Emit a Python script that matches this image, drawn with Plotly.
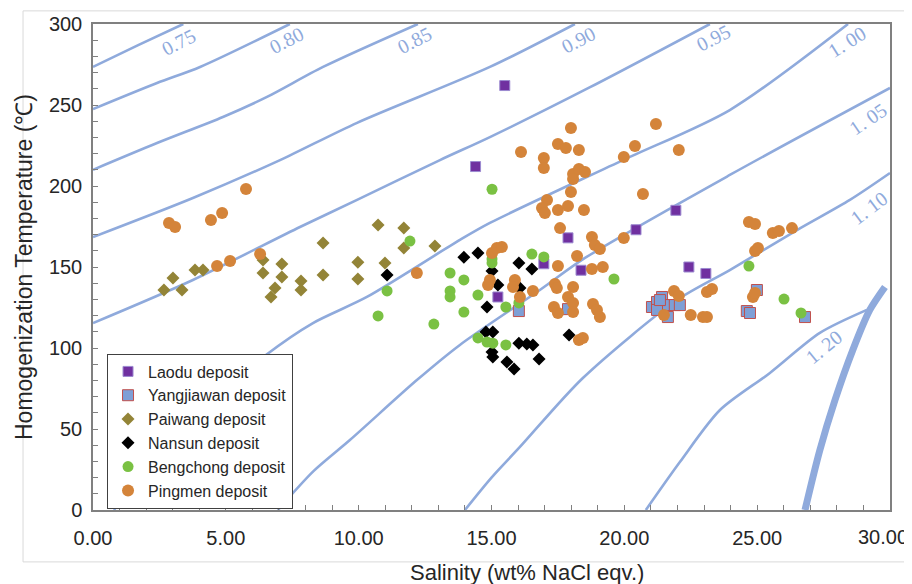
import plotly.graph_objects as go

# ---------------- data ----------------
laodu_x = [15.5, 14.4, 17.88, 18.37, 16.97, 15.24, 20.44, 21.94, 22.43, 23.07]
laodu_y = [262, 212, 168, 148, 152, 131.5, 173, 185, 150, 146]

yangjiawan_x = [21.04, 21.23, 21.42, 21.6, 21.9, 21.64, 21.23, 21.34, 22.09,
                24.99, 24.61, 24.73, 26.8, 16.03, 17.88]
yangjiawan_y = [125.3, 128.4, 131.5, 126.5, 126.5, 119.1, 123.5, 129.6, 126.5,
                135.8, 122.8, 121.6, 119.1, 122.8, 124]

paiwang_x = [2.67, 3.01, 3.35, 3.84, 4.14, 6.4, 6.4, 7.11, 7.11, 6.85, 6.7, 7.83,
             7.83, 8.66, 8.66, 9.97, 9.97, 10.73, 10.99, 11.7, 11.7, 12.87]
paiwang_y = [135.8, 143.2, 135.8, 148.1, 148.1, 154.3, 146.3, 151.9, 143.8, 137, 131.5, 141.4,
             135.8, 164.8, 145, 153, 142.6, 175.9, 152.5, 174, 161.7, 163]

nansun_x = [11.07, 13.96, 14.49, 15.02, 16.03, 16.52, 15.24, 16.07, 14.83, 14.79,
            15.05, 15.02, 15.05, 15.58, 15.85, 16.03, 16.33, 16.56, 16.79, 17.92]
nansun_y = [145, 156, 158.6, 147.5, 152.5, 148.8, 138.9, 137, 125.3, 109.9,
            109.9, 97.5, 94.4, 91.4, 87, 103, 102.5, 101.9, 93.2, 108]

bengchong_x = [11.93, 11.07, 10.73, 12.83, 13.44, 13.44, 13.44, 15.02, 13.96, 14.49,
               13.96, 15.02, 15.02, 15.54, 16.03, 16.52, 16.97, 14.49, 14.83, 15.05,
               15.54, 19.61, 24.69, 26.01, 26.65]
bengchong_y = [166, 135.2, 119.8, 114.8, 146.3, 135.2, 131.5, 198, 142, 132.7,
               122.2, 152.5, 155, 125.3, 127.8, 158, 156.2, 106.2, 103.7, 103,
               101.9, 142.6, 150.6, 130.2, 121.6]

pingmen_x = [2.86, 3.09, 4.44, 4.86, 5.76, 4.67, 5.16, 6.29, 12.19, 17.99,
             16.11, 17.5, 17.8, 18.29, 16.97, 16.97, 18.07, 18.29, 18.52, 18.07,
             17.99, 17.09, 16.9, 17.01, 17.5, 17.88, 18.48, 21.19, 20.4, 19.98,
             20.7, 17.58, 18.78, 18.89, 19.08, 19.98, 22.05, 18.22, 17.5, 18.78,
             19.19, 15.02, 15.2, 15.39, 14.94, 14.87, 15.88, 15.81, 16.07, 16.56,
             17.39, 17.46, 17.88, 18.07, 17.35, 17.5, 18.07, 18.07, 18.82, 18.97,
             19.08, 18.29, 18.44, 21.87, 21.49, 24.69, 24.92, 25.59, 25.82, 26.31,
             24.92, 25.03, 22.05, 23.11, 23.3, 24.84, 24.92, 22.5, 22.96, 23.11]
pingmen_y = [177.2, 174.7, 179, 183.3, 198.1, 150.6, 153.7, 158, 146.3, 235.8,
             221, 225.9, 223.5, 222.2, 217.3, 211.1, 207.4, 210.5, 208.6, 204.3,
             196.3, 191.4, 186.4, 183.3, 185.2, 187.7, 185.2, 238.3, 224.7, 217.9,
             195.1, 174, 168.5, 163.6, 161.1, 167.9, 222.2, 156.8, 150.6, 148.8,
             150, 158.6, 161.7, 162.3, 142, 138.9, 142, 137.6, 131.5, 135.2,
             139.5, 137, 131.5, 137.6, 125.3, 121.6, 127.8, 122.2, 127.2, 123.5,
             119.1, 104.9, 106.2, 135.2, 120.4, 177.8, 176.5, 171, 172.2, 174,
             159.9, 161.7, 132.1, 134.6, 136.4, 131.5, 134, 120.4, 119.1, 119.1]

# iso-density curves (g/cm3)
iso_075_x = [0, 1.7, 3.4]
iso_075_y = [273.5, 287, 300]
iso_080_x = [0, 2.41, 4.03, 7.41]
iso_080_y = [247.5, 263.6, 273.5, 300]
iso_085_x = [0, 2.41, 4.89, 6.55, 8.66, 12.23]
iso_085_y = [210, 226.5, 242.6, 255, 273.5, 300]
iso_090_x = [0, 3.76, 7.04, 9.94, 14.94, 18.14]
iso_090_y = [168.5, 192.6, 216, 239, 273.5, 300]
iso_095_x = [0, 3.76, 7.79, 9.94, 13.06, 14.94, 18.71, 23.22]
iso_095_y = [115.4, 142, 174.7, 191.4, 216, 230.2, 261, 300]
iso_100_x = [0.79, 2.2, 4.3, 6.51, 8.28, 10.31, 13.81, 14.94, 19.95, 23.97, 28.42]
iso_100_y = [0, 30, 65, 95.7, 115.4, 131.5, 166.7, 177.2, 216, 246.9, 300]
iso_105_x = [6.96, 8.3, 9.67, 12.19, 13.81, 16.82, 18.52, 23.97, 30]
iso_105_y = [0, 24, 43.2, 80.2, 101.9, 135.8, 155.6, 206.8, 260.5]
iso_110_x = [14.0, 15.0, 16.07, 18.44, 21.98, 23.97, 26.5, 28.49, 30]
iso_110_y = [0, 20, 38.9, 81.5, 129.6, 148.1, 172.8, 191.4, 208]
iso_120_x = [20.81, 22.09, 23.6, 25.48, 27.36, 29.13]
iso_120_y = [0, 29.6, 61.7, 84.6, 109.3, 123.5]
halite_x = [26.8, 27.36, 27.93, 28.6, 29.24, 29.81]
halite_y = [0, 37, 67.9, 98.8, 123.5, 137.7]

iso_labels = ["0.75", "0.80", "0.85", "0.90", "0.95", "1. 00", "1. 05", "1. 10", "1. 20"]
iso_label_x = [3.23, 7.30, 12.12, 18.26, 23.34, 28.38, 29.17, 29.21, 27.51]
iso_label_y = [288.9, 290.1, 290.1, 290.1, 291.4, 288.9, 241.4, 186.4, 100.6]
iso_label_angle = [-27, -27, -27, -27, -27, -32, -34, -37, -39]

x_ticks = [0, 5, 10, 15, 20, 25, 30]
x_tick_text = ["0.00", "5.00", "10.00", "15.00", "20.00", "25.00", "30.00"]
y_ticks = [0, 50, 100, 150, 200, 250, 300]
x_title = "Salinity (wt% NaCl eqv.)"
y_title = "Homogenization Temperature (℃)"

# ---------------- figure ----------------
LINE = "#8FAADC"
SANS = "Liberation Sans, Arial, sans-serif"
TEXT = "#262626"
fig = go.Figure()

curves = [(iso_075_x, iso_075_y), (iso_080_x, iso_080_y), (iso_085_x, iso_085_y),
          (iso_090_x, iso_090_y), (iso_095_x, iso_095_y), (iso_100_x, iso_100_y),
          (iso_105_x, iso_105_y), (iso_110_x, iso_110_y), (iso_120_x, iso_120_y)]
for cx, cy in curves:
    fig.add_trace(go.Scatter(x=cx, y=cy, mode="lines", showlegend=False,
                             line=dict(color=LINE, width=2.6, shape="spline", smoothing=0.8),
                             hoverinfo="skip"))
fig.add_trace(go.Scatter(x=halite_x, y=halite_y, mode="lines", showlegend=False,
                         line=dict(color=LINE, width=7, shape="spline", smoothing=0.8),
                         hoverinfo="skip"))

series = [
    ("Laodu deposit", laodu_x, laodu_y, "square", 10, "#7030A0", "#9C8AD0", 1),
    ("Yangjiawan deposit", yangjiawan_x, yangjiawan_y, "square", 11, "#7E9FD6", "#C0504D", 1),
    ("Paiwang deposit", paiwang_x, paiwang_y, "diamond", 10, "#938437", "#938437", 0),
    ("Nansun deposit", nansun_x, nansun_y, "diamond", 10, "#000000", "#000000", 0),
    ("Bengchong deposit", bengchong_x, bengchong_y, "circle", 11, "#7AC143", "#7AC143", 0),
    ("Pingmen deposit", pingmen_x, pingmen_y, "circle", 12, "#D4843A", "#D4843A", 0),
]
for name, sx, sy, sym, size, col, lcol, lw in series:
    fig.add_trace(go.Scatter(x=sx, y=sy, mode="markers", name=name,
                             marker=dict(symbol=sym, size=size, color=col,
                                         line=dict(color=lcol, width=lw))))

for t, lx, ly, ang in zip(iso_labels, iso_label_x, iso_label_y, iso_label_angle):
    fig.add_annotation(x=lx, y=ly, text=t, showarrow=False, textangle=ang,
                       font=dict(family="Liberation Serif, DejaVu Serif, serif", size=20, color=LINE))

# the last x tick label sits against the right edge of the chart, so it is
# drawn right-aligned there instead of centred on its tick
fig.add_annotation(x=1.0245, y=-0.0555, xref="paper", yref="paper", text=x_tick_text[-1],
                   showarrow=False, xanchor="right", yanchor="middle",
                   font=dict(family=SANS, size=20, color=TEXT))

# x-axis title (placed right of centre, as in the reference)
fig.add_annotation(x=0.5445, y=-0.1296, xref="paper", yref="paper", text=x_title,
                   showarrow=False, xanchor="center", yanchor="middle",
                   font=dict(family=SANS, size=22, color=TEXT))

# outer chart-area border
fig.add_shape(type="rect", xref="paper", yref="paper", x0=-0.0878, x1=1.0226,
              y0=-0.1068, y1=1.027, line=dict(color="#D9D9D9", width=1), layer="below")

# the page body adds an 8 px offset, so the figure is 904 x 576 and margins are adjusted
fig.update_layout(
    width=904, height=576,
    margin=dict(l=85, r=22, t=16, b=74),
    paper_bgcolor="white", plot_bgcolor="white",
    font=dict(family=SANS, color=TEXT),
    legend=dict(x=0.0176, y=0.322, xanchor="left", yanchor="top",
                bordercolor="#404040", borderwidth=1, bgcolor="white",
                font=dict(size=16, color=TEXT), traceorder="normal",
                itemwidth=30),
    xaxis=dict(range=[0, 30], tickvals=x_ticks, ticktext=x_tick_text[:-1] + [""],
               automargin=False,
               showgrid=False, zeroline=False, showline=True, linecolor="#808080",
               linewidth=1.5, mirror=True, ticks="inside", ticklen=5, tickcolor="#808080",
               minor=dict(dtick=1, ticks="inside", ticklen=5, tickcolor="#808080"),
               tickfont=dict(family=SANS, size=20, color=TEXT),
               ticklabelstandoff=9),
    yaxis=dict(range=[0, 300], tickvals=y_ticks, automargin=False,
               showgrid=False, zeroline=False, showline=True, linecolor="#808080",
               linewidth=1.5, mirror=True, ticks="inside", ticklen=5, tickcolor="#808080",
               minor=dict(dtick=10, ticks="inside", ticklen=5, tickcolor="#808080"),
               tickfont=dict(family=SANS, size=20, color=TEXT), ticklabelstandoff=5,
               title=dict(text=y_title, standoff=10,
                          font=dict(family=SANS, size=23, color=TEXT))),
)

fig.write_html("out.html")
